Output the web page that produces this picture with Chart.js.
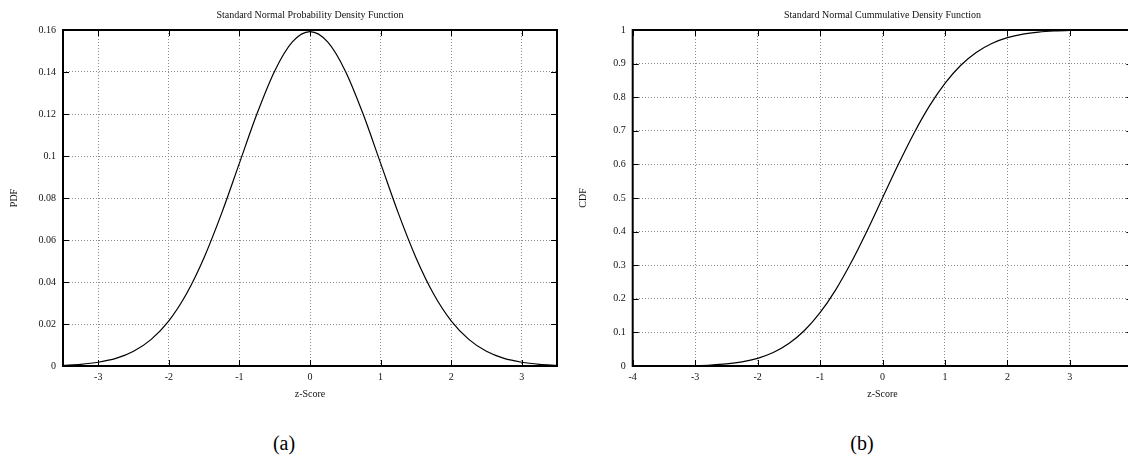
<!DOCTYPE html>
<html>
<head>
<meta charset="utf-8">
<script src="https://cdn.jsdelivr.net/npm/chart.js@4/dist/chart.umd.min.js"></script>
<style>
  html, body { margin: 0; padding: 0; background: #fff; overflow: hidden; width: 1128px; height: 475px; }
  canvas { position: absolute; top: 0; }
  #pdfChart { left: 0; }
  #cdfChart { left: 566px; }
  .caption { position: absolute; font: 20px "Liberation Serif", serif; color: #000; transform: translateX(-50%); }
</style>
</head>
<body>
<canvas id="pdfChart" width="620" height="410"></canvas>
<canvas id="cdfChart" width="633" height="410"></canvas>
<div class="caption" style="left:284px; top:432px;">(a)</div>
<div class="caption" style="left:862px; top:432px;">(b)</div>
<script>
"use strict";
// ========== DATA ========== //
const pdfZ = [-3.5, -3.25, -3, -2.75, -2.5, -2.25, -2, -1.75, -1.5, -1.25, -1, -0.75, -0.5, -0.25, 0,
  0.25, 0.5, 0.75, 1, 1.25, 1.5, 1.75, 2, 2.25, 2.5, 2.75, 3, 3.25, 3.5];
const pdfValues = [0.0003, 0.0008, 0.0018, 0.0036, 0.0070, 0.0127, 0.0215, 0.0344, 0.0517, 0.0729, 0.0966, 0.1202, 0.1405, 0.1543, 0.1592,
  0.1543, 0.1405, 0.1202, 0.0966, 0.0729, 0.0517, 0.0344, 0.0215, 0.0127, 0.0070, 0.0036, 0.0018, 0.0008, 0.0003];

const cdfZ = [-4, -3.75, -3.5, -3.25, -3, -2.75, -2.5, -2.25, -2, -1.75, -1.5, -1.25, -1, -0.75, -0.5, -0.25, 0,
  0.25, 0.5, 0.75, 1, 1.25, 1.5, 1.75, 2, 2.25, 2.5, 2.75, 3, 3.25, 3.5, 3.75, 4];
const cdfValues = [0.00003, 0.00009, 0.00023, 0.00058, 0.00135, 0.00298, 0.00621, 0.01222, 0.02275, 0.04006, 0.06681, 0.10565, 0.15866, 0.22663, 0.30854, 0.40129, 0.5,
  0.59871, 0.69146, 0.77337, 0.84134, 0.89435, 0.93319, 0.95994, 0.97725, 0.98778, 0.99379, 0.99702, 0.99865, 0.99942, 0.99977, 0.99991, 0.99997];

const pdfXTicks = [-3, -2, -1, 0, 1, 2, 3];
const pdfYTicks = [0, 0.02, 0.04, 0.06, 0.08, 0.1, 0.12, 0.14, 0.16];
const cdfXTicks = [-4, -3, -2, -1, 0, 1, 2, 3];
const cdfYTicks = [0, 0.1, 0.2, 0.3, 0.4, 0.5, 0.6, 0.7, 0.8, 0.9, 1];

const FONT = "'Liberation Serif', 'Times New Roman', serif";
Chart.defaults.font.family = FONT;
Chart.defaults.color = '#111';

// border box plus short inward tick marks on all four sides
const framePlugin = {
  id: 'frame',
  afterDatasetsDraw(chart) {
    const { ctx, chartArea: a, scales: { x, y } } = chart;
    const len = 6;
    ctx.save();
    ctx.strokeStyle = '#000';
    ctx.lineWidth = 1;
    ctx.beginPath();
    for (let t of x.ticks) {
      const px = Math.round(x.getPixelForValue(t.value)) + 0.5;
      ctx.moveTo(px, a.bottom); ctx.lineTo(px, a.bottom - len);
      ctx.moveTo(px, a.top); ctx.lineTo(px, a.top + len);
    }
    for (let t of y.ticks) {
      const py = Math.round(y.getPixelForValue(t.value)) + 0.5;
      ctx.moveTo(a.left, py); ctx.lineTo(a.left + len, py);
      ctx.moveTo(a.right, py); ctx.lineTo(a.right - len, py);
    }
    ctx.stroke();
    ctx.lineWidth = 2;
    ctx.strokeRect(a.left, a.top, a.right - a.left, a.bottom - a.top);
    ctx.restore();
  }
};

function makeChart(id, cfg) {
  const points = cfg.xs.map((x, i) => ({ x: x, y: cfg.ys[i] }));
  const gridOpts = { color: '#8a8a8a', lineWidth: 1, drawTicks: false };
  const borderOpts = { display: false, dash: [1, 2] };
  return new Chart(document.getElementById(id), {
    type: 'line',
    data: {
      datasets: [{
        data: points,
        borderColor: '#000',
        borderWidth: 1.2,
        pointRadius: 0,
        cubicInterpolationMode: 'monotone',
        fill: false
      }]
    },
    options: {
      responsive: false,
      animation: false,
      layout: { padding: { top: 0, left: 0, right: 0, bottom: 8 } },
      plugins: {
        legend: { display: false },
        tooltip: { enabled: false },
        title: {
          display: true,
          text: cfg.title,
          color: '#111',
          font: { family: FONT, size: 10, weight: 'normal' },
          padding: { top: 9, bottom: 9 }
        }
      },
      scales: {
        x: {
          type: 'linear',
          min: cfg.xMin,
          max: cfg.xMax,
          grid: gridOpts,
          border: borderOpts,
          afterBuildTicks: s => { s.ticks = cfg.xTicks.map(v => ({ value: v })); },
          afterFit: s => { s.height = 36; },
          ticks: { padding: 5, font: { size: 10 }, callback: v => String(v) },
          title: { display: true, text: 'z-Score', font: { size: 10 }, padding: { top: 0, bottom: 2 } }
        },
        y: {
          type: 'linear',
          min: cfg.yMin,
          max: cfg.yMax,
          grid: gridOpts,
          border: borderOpts,
          afterBuildTicks: s => { s.ticks = cfg.yTicks.map(v => ({ value: v })); },
          afterFit: s => { s.width = cfg.axisWidth; },
          ticks: { padding: 7, font: { size: 10 }, callback: v => String(+v.toFixed(2)) },
          title: { display: true, text: cfg.yLabel, font: { size: 10 }, padding: { top: cfg.yTitlePad, bottom: 0 } }
        },
        // empty right-hand axis keeps the plot centred under the title
        yr: {
          type: 'linear',
          position: 'right',
          grid: { display: false },
          border: { display: false },
          ticks: { display: false },
          afterFit: s => { s.width = cfg.axisWidth; }
        }
      }
    },
    plugins: [framePlugin]
  });
}

makeChart('pdfChart', {
  title: 'Standard Normal Probability Density Function',
  yLabel: 'PDF',
  xs: pdfZ, ys: pdfValues,
  xMin: -3.5, xMax: 3.5, yMin: 0, yMax: 0.16,
  xTicks: pdfXTicks, yTicks: pdfYTicks,
  axisWidth: 63, yTitlePad: 8
});

makeChart('cdfChart', {
  title: 'Standard Normal Cummulative Density Function',
  yLabel: 'CDF',
  xs: cdfZ, ys: cdfValues,
  xMin: -4, xMax: 4, yMin: 0, yMax: 1,
  xTicks: cdfXTicks, yTicks: cdfYTicks,
  axisWidth: 66.7, yTitlePad: 11
});
</script>
</body>
</html>
